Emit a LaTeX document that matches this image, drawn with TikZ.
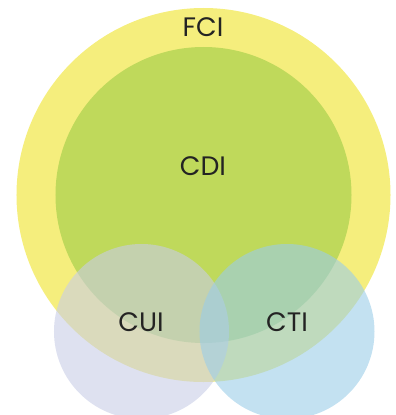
\documentclass[tikz,border=0pt]{standalone}
\usepackage{fontspec}
\setmainfont{Poppins}
\usepackage{xcolor}
\usepackage{tikz}
\usetikzlibrary{positioning}
\definecolor{fciyellow}{RGB}{245,238,125}
\definecolor{cdigreen}{RGB}{191,217,91}
\definecolor{cuililac}{RGB}{200,205,230}
\definecolor{ctiblue}{RGB}{155,205,232}
\definecolor{labelgray}{RGB}{35,35,35}

\begin{document}
\begin{tikzpicture}[
    x=0.25mm, y=-0.25mm,
    set/.style={circle, inner sep=0pt, outer sep=0pt, draw=none},
    small/.style={set, minimum size=43.75mm, fill opacity=0.6},
    setlabel/.style={text=labelgray, font=\fontsize{19}{22}\selectfont, inner sep=0pt, anchor=center}
]
    \clip (0,0) rectangle (396,415);
    \useasboundingbox (0,0) rectangle (396,415);

    \node[set, fill=fciyellow, minimum size=93.5mm] (fci) at (203.5,195) {};
    \node[set, fill=cdigreen, minimum size=74mm] (cdi) at (203.5,195) {};
    \node[small, fill=cuililac] (cui) at (141.5,331.5) {};
    \node[small, fill=ctiblue] (cti) at (287,331.5) {};

    \node[setlabel] (fcilabel) at (203,27) {FCI};
    \node[setlabel] (cdilabel) at (203,166) {CDI};
    \node[setlabel] (cuilabel) at (141,322) {CUI};
    \node[setlabel] (ctilabel) at (287,322) {CTI};
\end{tikzpicture}
\end{document}
